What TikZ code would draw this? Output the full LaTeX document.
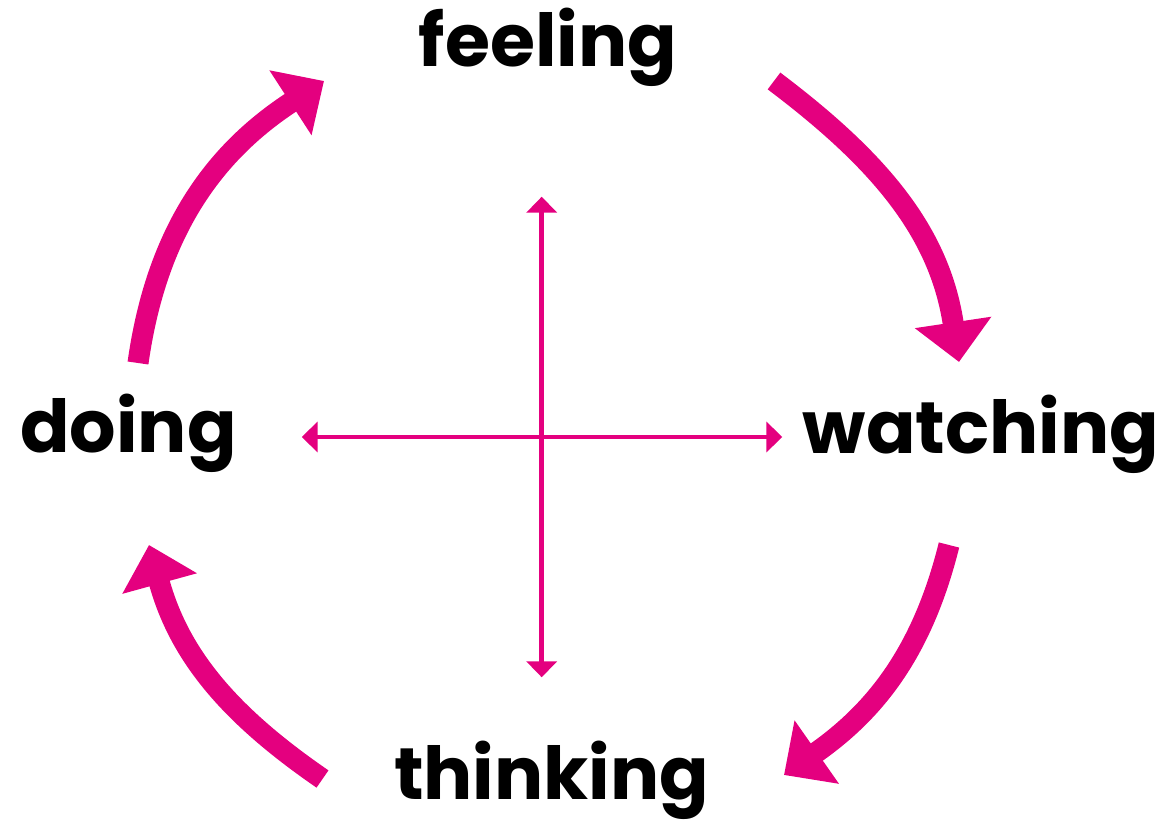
\documentclass[tikz,border=0pt]{standalone}
\usepackage{fontspec}
\newfontfamily\labelfont{Poppins}
\usetikzlibrary{arrows.meta}
\definecolor{mag}{RGB}{228,0,127}
\begin{document}
\begin{tikzpicture}[x=1pt,y=1pt,
  lbl/.style={font=\labelfont\bfseries\fontsize{73}{80}\selectfont, anchor=base, inner sep=0pt},
  bigarrow/.style={line width=21pt, draw=mag, -{Triangle[length=40pt,width=75pt]}, looseness=1.0},
  axisline/.style={line width=4.5pt, draw=mag, {Triangle[length=16pt,width=30pt]}-{Triangle[length=16pt,width=30pt]}}]
\useasboundingbox (0,0) rectangle (1162,831);
\node[lbl] (feeling) at (548,764.3) {feeling};
\node[lbl] (doing) at (128.5,378) {doing};
\node[lbl] (watching) at (981,377) {watching};
\node[lbl] (thinking) at (551.5,32) {thinking};
% cycle arrows
\coordinate (s1) at (138,468);
\coordinate (t1) at (324,750);
\coordinate (s2) at (774,750);
\coordinate (t2) at (959,469);
\coordinate (s3) at (949,286);
\coordinate (t3) at (784,56);
\coordinate (s4) at (322.5,52);
\coordinate (t4) at (149,286);
\draw[bigarrow] (s1) to[out=82,in=213] (t1);
\draw[bigarrow] (s2) to[out=-37,in=98.5] (t2);
\draw[bigarrow] (s3) to[out=-104,in=35] (t3);
\draw[bigarrow] (s4) to[out=145.5,in=-74.6] (t4);
% axes
\coordinate (top) at (541.7,634.3);
\coordinate (bottom) at (541.7,153.7);
\coordinate (left) at (301.7,394);
\coordinate (right) at (782.3,394);
\draw[axisline] (bottom) -- (top);
\draw[axisline] (left) -- (right);
\end{tikzpicture}
\end{document}
